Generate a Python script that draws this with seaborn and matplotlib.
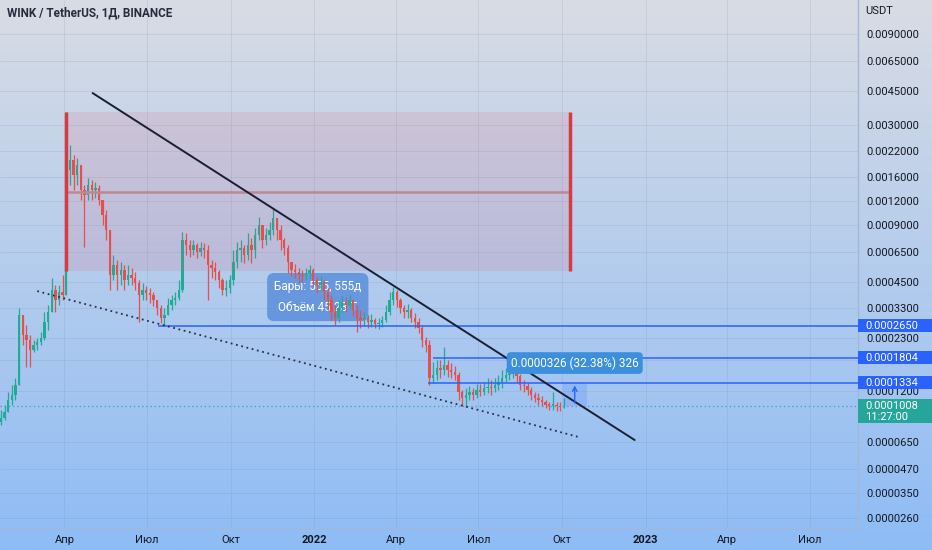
import numpy as np
import pandas as pd
import matplotlib
matplotlib.use("Agg")
import matplotlib.pyplot as plt
import matplotlib.dates as mdates
import matplotlib.colors as mcolors
import matplotlib.transforms as mtransforms
from matplotlib.patches import Rectangle
from matplotlib.ticker import NullLocator
import seaborn as sns

# candles (4-day bars), prices in micro-USDT
start_date = '2021-01-21'
first_open_u = 82.9
close_u = [86.9, 93.6, 108, 115, 130, 302, 237, 223, 198, 210,
           218, 228, 277, 313, 408, 362, 398, 384, 1741, 1964,
           1638, 1848, 1367, 1286, 1451, 1367, 1400, 1211, 1011, 843,
           489, 552, 489, 520, 461, 489, 472, 444, 384, 408,
           393, 384, 362, 329, 291, 302, 341, 362, 370, 408,
           747, 703, 662, 703, 646, 678, 662, 552, 533, 508,
           461, 408, 419, 461, 573, 662, 678, 623, 703, 662,
           793, 895, 747, 793, 843, 975, 843, 747, 678, 573,
           520, 508, 489, 484, 501, 520, 461, 434, 450, 398,
           362, 313, 291, 329, 353, 341, 362, 321, 291, 284,
           291, 277, 284, 271, 274, 284, 313, 362, 398, 362,
           329, 313, 321, 291, 277, 258, 223, 210, 141, 146,
           159, 155, 165, 155, 151, 146, 119, 111, 115, 119,
           115, 122, 119, 125, 127, 125, 130, 134, 141, 146,
           148, 151, 144, 130, 128, 122, 115, 111, 108, 105,
           102, 101, 102, 100, 98.8, 100.8]
high_u = [95.8, 102, 119, 130, 141, 329, 295, 267, 237, 223,
          228, 246, 313, 341, 472, 434, 434, 489, 3508, 2353,
          2085, 2012, 1741, 1451, 1581, 1542, 1505, 1451, 1211, 1074,
          843, 623, 587, 573, 552, 552, 533, 508, 461, 444,
          429, 419, 398, 362, 341, 329, 370, 384, 398, 461,
          823, 813, 747, 747, 720, 729, 720, 703, 587, 573,
          520, 472, 461, 489, 662, 729, 747, 703, 813, 765,
          864, 987, 864, 864, 928, 1100, 928, 895, 765, 703,
          573, 559, 533, 520, 533, 552, 533, 478, 484, 461,
          419, 384, 341, 362, 379, 375, 384, 362, 341, 321,
          313, 302, 306, 291, 291, 298, 341, 398, 424, 408,
          370, 341, 345, 329, 310, 291, 267, 231, 223, 171,
          175, 175, 205, 175, 169, 163, 151, 122, 125, 128,
          125, 131, 131, 134, 141, 138, 141, 146, 155, 159,
          159, 157, 157, 148, 138, 133, 127, 119, 117, 114,
          108, 106, 119, 106, 105, 111]
low_u = [79.9, 84.9, 93.6, 102, 108, 130, 210, 161, 161, 193,
         198, 210, 223, 252, 321, 313, 341, 362, 384, 1451,
         1367, 1451, 1211, 686, 1211, 1211, 1241, 1140, 895, 747,
         408, 461, 408, 434, 408, 434, 434, 408, 277, 362,
         362, 349, 337, 302, 274, 264, 302, 321, 341, 362,
         398, 623, 608, 623, 601, 616, 601, 362, 472, 461,
         419, 384, 379, 393, 434, 533, 573, 566, 587, 566,
         601, 747, 678, 703, 747, 793, 747, 662, 623, 501,
         484, 472, 450, 450, 461, 472, 429, 393, 408, 362,
         321, 284, 267, 277, 313, 313, 329, 298, 246, 258,
         264, 258, 261, 258, 255, 261, 277, 302, 341, 333,
         310, 291, 291, 277, 258, 243, 205, 193, 130, 133,
         138, 141, 146, 142, 141, 138, 108, 101, 100, 108,
         108, 111, 113, 115, 117, 115, 119, 122, 125, 134,
         138, 141, 134, 122, 119, 115, 108, 105, 102, 100,
         97.6, 95.8, 95.8, 94.7, 94.7, 97.6]

# drawings
box_dates = ['2021-04-03', '2022-10-10']
box_prices = [0.00351, 0.000514]
box_mid = 0.00134
trend_dates = ['2021-05-02', '2022-12-20']
trend_prices = [0.00441, 0.0000667]
support_dates = ['2021-03-02', '2022-10-19']
support_prices = [0.000403, 0.0000692]
level_prices = [0.000265, 0.0001804, 0.0001334]
level_starts = ['2021-07-13', '2022-05-12', '2022-05-06']
level_labels = ['0.0002650', '0.0001804', '0.0001334']
last_price = 0.0001008
last_label = '0.0001008'
countdown = '11:27:00'
measure_dates = ['2022-10-02', '2022-10-28']
measure_arrow_date = '2022-10-15'
measure_text = '0.0000326 (32.38%) 326'
range_text = 'Бары: 555, 555д\nОбъём 45.28 T'
range_pos = ('2022-01-05', 0.000375)

# 0.000175 sits under the 0.0001804 label in the original, so only its grid line shows
ytick_vals = [0.009, 0.0065, 0.0045, 0.003, 0.0022, 0.0016, 0.0012, 0.0009,
              0.00065, 0.00045, 0.00033, 0.00023, 0.000175, 0.00012,
              0.000065, 0.000047, 0.000035, 0.000026]
ytick_hidden = [0.000175]
xtick_dates = ['2021-04-01', '2021-07-01', '2021-10-01', '2022-01-01', '2022-04-01',
               '2022-07-01', '2022-10-01', '2023-01-01', '2023-04-01', '2023-07-01']
xtick_labels = ['Апр', 'Июл', 'Окт', '2022', 'Апр', 'Июл', 'Окт', '2023', 'Апр', 'Июл']

sns.set_theme(style="white")
plt.rcParams['font.family'] = ['Roboto', 'DejaVu Sans']

W, H = 932, 550
fig = plt.figure(figsize=(W / 100, H / 100), dpi=100)

# gradient background
bg = fig.add_axes([0, 0, 1, 1], zorder=-10)
c_top = np.array(mcolors.to_rgb('#d9dce4'))
c_bot = np.array(mcolors.to_rgb('#8ebcf6'))
t = np.linspace(0, 1, 256)[:, None, None]
bg.imshow(c_top * (1 - t) + c_bot * t, aspect='auto', extent=[0, 1, 0, 1])
bg.set_axis_off()

ax = fig.add_axes([0, 22 / H, 858 / W, 528 / H])
ax.set_facecolor('none')
ax.set_yscale('log')
d2n = lambda d: mdates.date2num(pd.Timestamp(d))
x_right = d2n('2023-08-23')
ax.set_xlim(d2n('2021-01-20'), x_right)
ax.set_ylim(2.304e-5, 1.357e-2)

# candles
xs = mdates.date2num(pd.date_range(start_date, periods=len(close_u), freq='4D'))
close = np.array(close_u) * 1e-6
open_ = np.concatenate([[first_open_u], close_u[:-1]]) * 1e-6
high = np.maximum.reduce([np.array(high_u) * 1e-6, open_, close])
low = np.minimum.reduce([np.array(low_u) * 1e-6, open_, close])
colors = np.where(close >= open_, '#22ab94', '#e5504c')
ax.vlines(xs, low, high, colors=colors, lw=0.9, zorder=3)
body_lo = np.minimum(open_, close)
body_h = np.maximum(np.abs(close - open_), body_lo * 0.015)
ax.bar(xs, body_h, bottom=body_lo, width=2.6, color=colors, linewidth=0, zorder=3)

# range label (below candles)
ax.text(d2n(range_pos[0]), range_pos[1], range_text, ha='center', va='center',
        color='white', fontsize=8.5, linespacing=1.8, zorder=2.8,
        bbox=dict(boxstyle='round,pad=0.6', fc='#5a8fdc', ec='none', alpha=0.85))

# box
bx0, bx1 = d2n(box_dates[0]), d2n(box_dates[1])
ax.fill_between([bx0, bx1], box_prices[1], box_prices[0], color='#e0506a',
                alpha=0.13, lw=0, zorder=3.5)
ax.hlines(box_mid, bx0, bx1, color='#b98a96', lw=1.8, zorder=3.6)
ax.vlines([bx0, bx1], box_prices[1], box_prices[0], color='#d63a42', lw=2.5, zorder=4)

# trend lines
sns.lineplot(x=[d2n(d) for d in trend_dates], y=trend_prices, ax=ax,
             color='#1b1f33', lw=1.4, zorder=5)
sns.lineplot(x=[d2n(d) for d in support_dates], y=support_prices, ax=ax,
             color='#2a2f45', lw=1.3, linestyle=(0, (1, 2)), zorder=5)

# horizontal levels
for p, s in zip(level_prices, level_starts):
    ax.hlines(p, d2n(s), x_right, color='#2962ff', lw=1.1, zorder=4)
ax.axhline(last_price, color='#4aa3c0', lw=1, ls=(0, (1, 2)), zorder=2)

# measurement
m0, m1 = d2n(measure_dates[0]), d2n(measure_dates[1])
ax.fill_between([m0, m1], last_price, level_prices[2], color='#2962ff', alpha=0.15,
                lw=0, zorder=3)
ma = d2n(measure_arrow_date)
ax.annotate('', xy=(ma, level_prices[2]), xytext=(ma, last_price),
            arrowprops=dict(arrowstyle='->', color='#2962ff', lw=1, mutation_scale=8),
            zorder=5)
ax.text(ma, 0.000169, measure_text, ha='center', va='center', color='white',
        fontsize=8.5, zorder=6,
        bbox=dict(boxstyle='round,pad=0.35', fc='#3c8fdc', ec='none'))

# axes styling
ax.set_xlabel('')
ax.set_ylabel('')
ax.yaxis.tick_right()
ax.set_yticks(ytick_vals)
ax.set_yticklabels(['' if v in ytick_hidden else f'{v:.7f}' for v in ytick_vals])
ax.yaxis.set_minor_locator(NullLocator())
ax.set_xticks([d2n(d) for d in xtick_dates])
ax.set_xticklabels(xtick_labels)
for lbl in ax.get_xticklabels():
    if lbl.get_text() in ('2022', '2023'):
        lbl.set_fontweight('bold')
ax.tick_params(axis='y', length=0, pad=6, labelsize=8, labelcolor='#131722')
ax.tick_params(axis='x', length=0, pad=5, labelsize=8, labelcolor='#131722')
ax.set_axisbelow(True)
ax.grid(True, color='#6f7ea0', alpha=0.15, lw=0.7)
for s in ('top', 'left'):
    ax.spines[s].set_visible(False)
for s in ('bottom', 'right'):
    ax.spines[s].set_color('#a3b8d6')
    ax.spines[s].set_linewidth(1)

# right-side price labels
trans = mtransforms.blended_transform_factory(ax.transAxes, ax.transData)


def fig_y(p):
    return trans.transform((1, p))[1] / H


for p, lbl in zip(level_prices, level_labels):
    yf = fig_y(p)
    fig.add_artist(Rectangle((858 / W, yf - 6.5 / H), 74 / W, 13 / H,
                             transform=fig.transFigure, fc='#2962ff', ec='none', zorder=5))
    fig.text(865 / W, yf, lbl, color='white', fontsize=8, va='center', ha='left', zorder=6)

yf = fig_y(last_price)
fig.add_artist(Rectangle((858 / W, yf - 17 / H), 74 / W, 24 / H,
                         transform=fig.transFigure, fc='#26a69a', ec='none', zorder=5))
fig.text(865 / W, yf, last_label, color='white', fontsize=8, va='center', zorder=6)
fig.text(865 / W, yf - 11 / H, countdown, color='white', fontsize=8, va='center', zorder=6)

fig.text(865 / W, 1 - 11 / H, 'USDT', color='#131722', fontsize=8, va='center')
fig.text(7 / W, 1 - 13 / H, 'WINK / TetherUS, 1Д, BINANCE', color='#262b3e',
         fontsize=8.5, fontweight='bold', va='center')

fig.savefig('out.png', dpi=100)
